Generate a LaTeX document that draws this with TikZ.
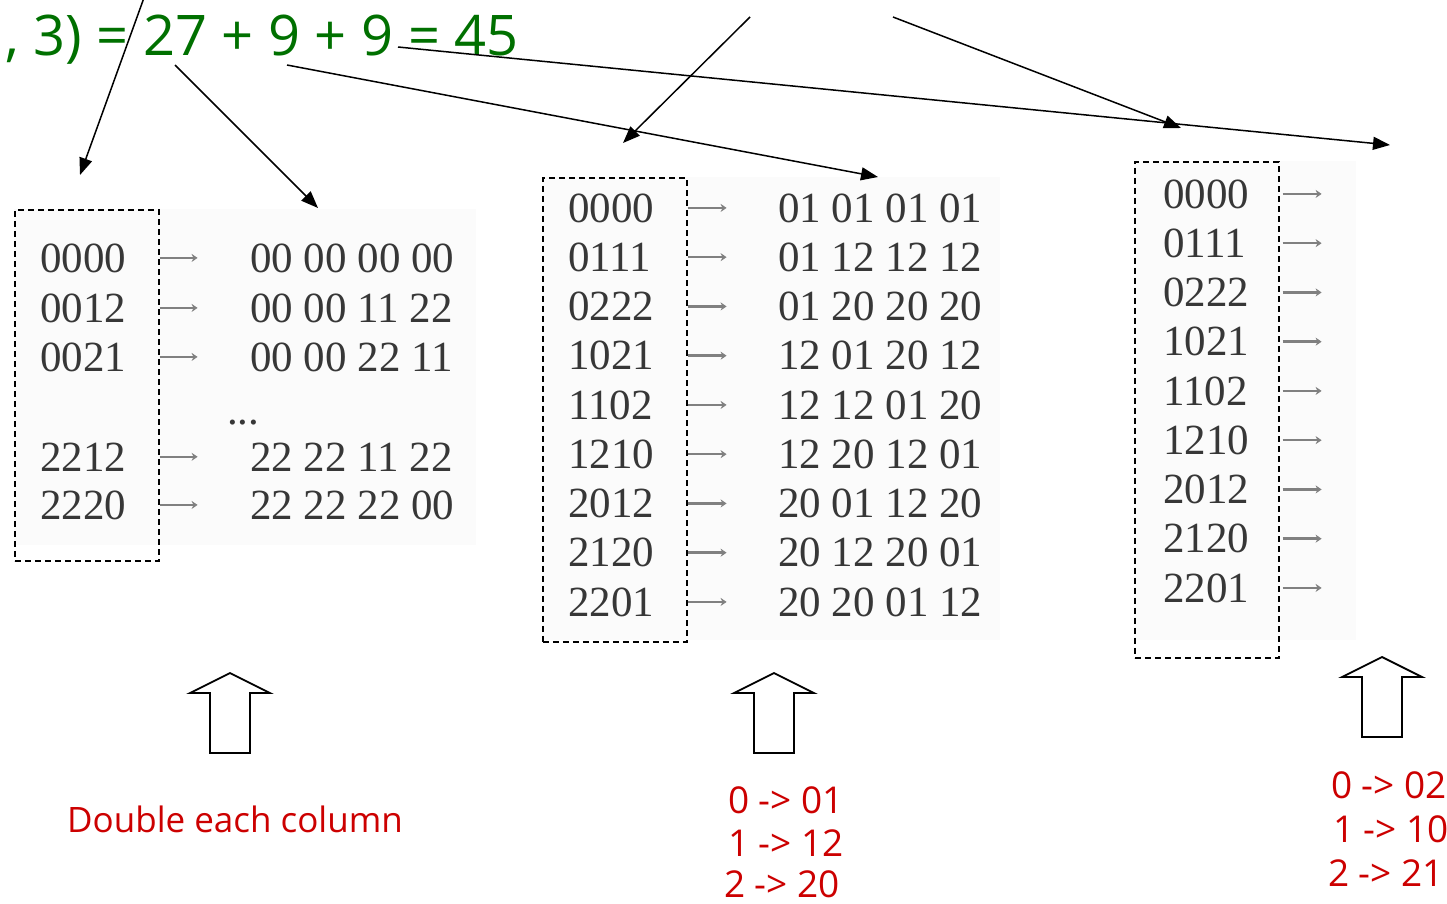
\documentclass[tikz,border=0pt]{standalone}
\usepackage{fontspec}
\setmainfont{Liberation Serif}
\newfontfamily\handfont{Open Sans}
\usetikzlibrary{arrows.meta}
\definecolor{grn}{RGB}{0,112,0}
\definecolor{rd}{RGB}{204,0,0}
\definecolor{digit}{RGB}{55,55,55}
\begin{document}
\begin{tikzpicture}[x=1pt,y=-1pt,
  ptr/.style={line width=1.5pt,-{Triangle[length=17pt,width=13pt]}},
  dbox/.style={draw,line width=1.6pt,dash pattern=on 6pt off 4pt,inner sep=0pt,anchor=north west,minimum width=144pt},
  cell/.style={font=\fontsize{43}{43}\selectfont,text=digit,inner sep=0pt,anchor=base west},
  minor/.style={draw=black!50,line width=2.4pt,-{Stealth[length=6pt,width=8pt]}},
  hand/.style={font=\handfont\fontsize{37}{37}\selectfont,text=rd,inner sep=0pt,anchor=base},
  uparr/.pic={\draw[line width=1.8pt,fill=white] (0,0) -- (40,20) -- (20,20) -- (20,80) -- (-20,80) -- (-20,20) -- (-40,20) -- cycle;},
  shade/.style={fill=black!1.5}
]
\useasboundingbox (0,0) rectangle (1447,903);
\clip (0,0) rectangle (1447,903);

% equation
\node[anchor=base west,inner sep=0pt,text=grn,font=\handfont\fontsize{56}{56}\selectfont] (eq) at (5,55) {, 3) = 27 + 9 + 9 = 45};

% table backgrounds
\fill[shade] (14,209) rectangle (476,545);
\fill[shade] (542,177) rectangle (1000,640);
\fill[shade] (1134,161) rectangle (1356,640);

% table 1
\node[dbox,minimum height=351pt] (box1) at (14,209) {};
\foreach \l/\r/\b [count=\i] in {0000/00 00 00 00/272,0012/00 00 11 22/322,0021/00 00 22 11/371,2212/22 22 11 22/471,2220/22 22 22 00/519}{
  \node[cell] (la-\i) at (40,\b) {\l};
  \node[cell] (ra-\i) at (250,\b) {\r};
  \draw[minor] (box1.east |- la-\i) -- ++(38,0);
}
\node[cell] (dots) at (227,424) {...};

% table 2
\node[dbox,minimum height=464pt] (box2) at (542,177) {};
\foreach \l/\r [count=\i] in {0000/01 01 01 01,0111/01 12 12 12,0222/01 20 20 20,1021/12 01 20 12,1102/12 12 01 20,1210/12 20 12 01,2012/20 01 12 20,2120/20 12 20 01,2201/20 20 01 12}{
  \pgfmathsetmacro\b{222+49.25*(\i-1)}
  \node[cell] (lb-\i) at (568,\b) {\l};
  \node[cell] (rb-\i) at (778,\b) {\r};
  \draw[minor] (box2.east |- lb-\i) -- ++(39,0);
}

% table 3
\node[dbox,minimum height=496pt] (box3) at (1134,161) {};
\foreach \l [count=\i] in {0000,0111,0222,1021,1102,1210,2012,2120,2201}{
  \pgfmathsetmacro\b{208+49.25*(\i-1)}
  \node[cell] (lc-\i) at (1163,\b) {\l};
  \draw[minor] (box3.east |- lc-\i) ++(3,0) -- ++(39,0);
}

% pointer arrows
\coordinate (a1s) at (145,-5);  \coordinate (a1t) at (80,175);
\coordinate (a2s) at (175,65);  \coordinate (a2t) at (318,208);
\coordinate (a3s) at (287,65);  \coordinate (a3t) at (878,177);
\coordinate (a4s) at (750,17);  \coordinate (a4t) at (623,143);
\coordinate (a5s) at (893,17);  \coordinate (a5t) at (1181,128);
\coordinate (a6s) at (398,47);  \coordinate (a6t) at (1390,145);
\draw[ptr] (a1s) -- (a1t);
\draw[ptr] (a2s) -- (a2t);
\draw[ptr] (a3s) -- (a3t);
\draw[ptr] (a4s) -- (a4t);
\draw[ptr] (a5s) -- (a5t);
\draw[ptr] (a6s) -- (a6t);

% block arrows
\pic at (230,673) {uparr};
\pic at (774,673) {uparr};
\pic at (1382,657) {uparr};

% red labels
\node[hand,font=\handfont\fontsize{35}{35}\selectfont] (dbl) at (235,832) {Double each column};
\node[hand] (m1) at (786,813) {0 -> 01};
\node[hand] (m2) at (786,856) {1 -> 12};
\node[hand] (m3) at (782,897) {2 -> 20};
\node[hand] (n1) at (1389,798) {0 -> 02};
\node[hand] (n2) at (1391,842) {1 -> 10};
\node[hand] (n3) at (1386,886) {2 -> 21};
\end{tikzpicture}
\end{document}
